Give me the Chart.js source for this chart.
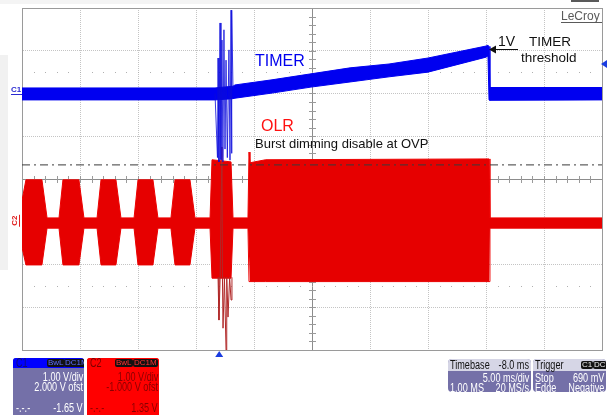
<!DOCTYPE html>
<html>
<head>
<meta charset="utf-8">
<script src="https://cdn.jsdelivr.net/npm/chart.js@4.4.1/dist/chart.umd.min.js"></script>
<style>
body { margin: 0; background: #fff; font-family: "Liberation Sans", Arial, sans-serif; }
#wrap { position: relative; width: 607px; height: 415px; overflow: hidden; background: #fff; }
#scope { position: absolute; left: 0; top: 0; }
.shade { position: absolute; background: #f1f1f1; }
.panel { position: absolute; overflow: hidden; font-size: 12px; line-height: 10px; color: #fff; }
.panel .head { position: absolute; left: 0; right: 0; top: 0; }
.panel span { position: absolute; white-space: nowrap; transform: scaleX(0.76); transform-origin: left center; }
.panel span.r { transform-origin: right center; }
.panel span.tag { background: #111; border-radius: 2px; font-size: 8px; line-height: 8px; padding: 0 1px; top: 1px; transform: none; }
</style>
</head>
<body>
<div id="wrap">
  <div class="shade" style="left:0;top:55px;width:8px;height:215px"></div>
  <div class="shade" style="left:0;top:0;width:420px;height:4px;background:#f4f4f4"></div>
  <canvas id="scope" width="607" height="415"></canvas>

  <div class="panel" style="left:13px;top:358px;width:71px;height:60px;background:#7470a8;border-radius:3px 3px 0 0">
    <div class="head" style="height:10px;background:#0000ff"></div>
    <span style="left:3px;top:0;color:#101070">C1</span>
    <span class="tag" style="left:34px;color:#5a6cff">BwL</span>
    <span class="tag" style="left:51px;color:#5a6cff">DC1M</span>
    <span class="r" style="right:1px;top:14px">1.00 V/div</span>
    <span class="r" style="right:1px;top:24px">2.000 V ofst</span>
    <span style="left:3px;top:45px">-.-.-</span>
    <span class="r" style="right:1px;top:45px">-1.65 V</span>
  </div>
  <div class="panel" style="left:87px;top:358px;width:72px;height:60px;background:#ff0000;border-radius:3px 3px 0 0;color:#8a0000">
    <div class="head" style="height:10px;background:#ff0000"></div>
    <span style="left:3px;top:0;color:#7a0000">C2</span>
    <span class="tag" style="left:28px;color:#ff3030">BwL</span>
    <span class="tag" style="left:46px;color:#ff3030">DC1M</span>
    <span class="r" style="right:1px;top:14px">1.00 V/div</span>
    <span class="r" style="right:1px;top:24px">-1.000 V ofst</span>
    <span style="left:3px;top:45px">-.-.-</span>
    <span class="r" style="right:1px;top:45px">1.35 V</span>
  </div>
  <div class="panel" style="left:448px;top:359px;width:83px;height:33px;background:#7470a8;border-radius:4px">
    <div class="head" style="height:12px;background:#d6d6e6"></div>
    <span style="left:2px;top:1px;color:#111">Timebase</span>
    <span class="r" style="right:2px;top:1px;color:#111">-8.0 ms</span>
    <span class="r" style="right:2px;top:14px">5.00 ms/div</span>
    <span style="left:2px;top:24px">1.00 MS</span>
    <span class="r" style="right:2px;top:24px">20 MS/s</span>
  </div>
  <div class="panel" style="left:533px;top:359px;width:73px;height:33px;background:#7470a8;border-radius:4px">
    <div class="head" style="height:12px;background:#d6d6e6"></div>
    <span style="left:2px;top:1px;color:#111">Trigger</span>
    <span class="tag" style="left:48px;top:2px;color:#eee">C1</span>
    <span class="tag" style="left:60px;top:2px;color:#eee">DC</span>
    <span style="left:2px;top:14px">Stop</span>
    <span class="r" style="right:2px;top:14px">690 mV</span>
    <span style="left:2px;top:24px">Edge</span>
    <span class="r" style="right:2px;top:24px">Negative</span>
  </div>
</div>
<script>
// scope settings
var timeMin = -17, timeMax = 33, msPerDiv = 5;
var c1OffsetDiv = 2, c2OffsetDiv = -1;   // 2.000 V ofst / -1.000 V ofst at 1 V/div
var trigLevelV = 0.69;
var cursorV = 1.33;                       // dash-dot level on C2

// C1 TIMER: envelope of the trace (ms, volts)
var c1Time = [-17, -0.36, 1.19, 1.36, 4.55, 7.91, 11.28, 14.64, 18.0, 23.0, 23.17, 23.26, 23.34, 33];
var c1High = [0.13, 0.13, 0.17, 0.20, 0.32, 0.46, 0.60, 0.69, 0.83, 1.11, 1.13, 1.10, 0.14, 0.14];
var c1Low  = [-0.15, -0.15, -0.12, -0.11, 0.01, 0.15, 0.27, 0.39, 0.50, 0.85, 0.88, -0.15, -0.16, -0.15];
// C1 ringing near the trigger
var c1SpikeTime = [-0.36, -0.15, -0.1, -0.02, 0.07, 0.15, 0.24, 0.32, 0.41, 0.5, 0.59, 0.7, 0.84, 0.93, 1.02, 1.06, 1.10, 1.19];
var c1SpikeV    = [0, -1.5, 0.83, -1.6, 1.65, -1.55, 1.25, -1.6, 1.49, -1.3, 0.78, -1.5, 1.02, -1.56, 1.95, -1.4, 1.95, 0.1];

// C2 OLR: envelope of the burst packets (ms, volts)
var c2Time = [-17, -16.66, -15.28, -14.84, -13.81, -13.47, -12.09, -11.66, -10.53, -10.19, -8.90, -8.47,
              -7.34, -7.0, -5.71, -5.28, -4.16, -3.81, -2.52, -2.09, -0.79, -0.62, 1.02, 1.19,
              2.48, 2.57, 2.65, 4.0, 23.26, 23.34, 33];
var c2High = [0.5, 0.98, 0.98, 0.09, 0.09, 0.98, 0.98, 0.09, 0.09, 0.98, 0.98, 0.09,
              0.09, 0.98, 0.98, 0.09, 0.09, 0.98, 0.98, 0.09, 0.09, 1.45, 1.40, 0.09,
              0.09, 1.63, 1.38, 1.45, 1.47, 0.09, 0.09];
var c2Low  = [-0.6, -1.01, -1.01, -0.15, -0.15, -1.01, -1.01, -0.15, -0.15, -1.01, -1.01, -0.15,
              -0.15, -1.01, -1.01, -0.15, -0.15, -1.01, -1.01, -0.15, -0.15, -1.32, -1.32, -0.15,
              -0.15, -1.40, -1.40, -1.40, -1.40, -0.15, -0.15];
var c2SpikeTime = [-0.1, -0.02, 0.08, 0.24, 0.28, 0.33, 0.45, 0.59, 0.65, 0.76, 0.9, 1.02, 1.1];
var c2SpikeV    = [-1.3, -2.30, -1.3, 1.75, -1.3, -2.49, -1.3, -3.0, -1.3, -2.23, -1.3, -1.83, -1.3];

function pts(t, v, off) {
  return t.map(function (ti, i) { return {x: ti, y: v[i] + off}; });
}

var blue = '#0000f0', red = '#ee0000';

function line(data, color, extra) {
  var d = {data: data, borderColor: color, backgroundColor: color, borderWidth: 1,
           pointRadius: 0, tension: 0, fill: false};
  for (var k in extra) d[k] = extra[k];
  return d;
}

var isCenter = function (c, v) { return c.tick && c.tick.value === v; };

var decor = {
  id: 'decor',
  beforeDatasetsDraw: function (chart) {
    var ctx = chart.ctx, x = chart.scales.x, y = chart.scales.y;
    var cx = Math.round(x.getPixelForValue((timeMin + timeMax) / 2)), cy = Math.round(y.getPixelForValue(0));
    ctx.save();
    ctx.fillStyle = '#9a9a9a';
    for (var d = -4; d <= 4.001; d += 0.2) ctx.fillRect(cx - 3, Math.round(y.getPixelForValue(d)), 7, 1);
    for (var t = timeMin; t <= timeMax; t += msPerDiv / 5) ctx.fillRect(Math.round(x.getPixelForValue(t)), cy - 3, 1, 7);
    ctx.fillStyle = '#b0b0b0';
    [2.5, -2.5].forEach(function (dv) {
      var py = Math.round(y.getPixelForValue(dv));
      for (var t = timeMin + 1; t < timeMax; t += msPerDiv / 5) ctx.fillRect(Math.round(x.getPixelForValue(t)), py, 1, 1);
    });
    ctx.restore();
  },
  afterDraw: function (chart) {
    var ctx = chart.ctx, x = chart.scales.x, y = chart.scales.y, a = chart.chartArea;
    ctx.save();
    ctx.textBaseline = 'alphabetic';
    ctx.font = '16px "Liberation Sans", Arial, sans-serif';
    ctx.fillStyle = '#0000ee'; ctx.fillText('TIMER', 255, 66);
    ctx.fillStyle = '#ff1010'; ctx.fillText('OLR', 261, 131);
    ctx.fillStyle = '#111';
    ctx.font = '13px "Liberation Sans", Arial, sans-serif';
    ctx.fillText('Burst dimming disable at OVP', 255, 148);
    ctx.font = '14px "Liberation Sans", Arial, sans-serif';
    ctx.fillText('1V', 498, 46);
    ctx.font = '13.5px "Liberation Sans", Arial, sans-serif';
    ctx.fillText('TIMER', 529, 46);
    ctx.fillText('threshold', 521, 62);
    // arrow to the 1 V peak
    ctx.fillRect(494, 49, 24, 1);
    ctx.beginPath(); ctx.moveTo(489, 49.5); ctx.lineTo(496, 45.5); ctx.lineTo(496, 53.5); ctx.closePath(); ctx.fill();
    // LeCroy logo
    ctx.fillStyle = '#5a5a5a';
    ctx.font = '12px "Liberation Sans", Arial, sans-serif';
    ctx.fillText('LeCroy', 561, 20);
    ctx.fillRect(561, 22, 41, 1);
    ctx.fillRect(571, 0, 28, 2);
    // channel markers
    var y1 = Math.round(y.getPixelForValue(c1OffsetDiv)) + 0.5;
    ctx.fillStyle = '#2a2ad0'; ctx.strokeStyle = '#2a2ad0'; ctx.lineWidth = 1;
    ctx.font = 'bold 8px "Liberation Sans", Arial, sans-serif';
    ctx.fillText('C1', 11, y1 - 3);
    ctx.beginPath(); ctx.moveTo(11, y1); ctx.lineTo(a.left, y1); ctx.stroke();
    var y2 = y.getPixelForValue(c2OffsetDiv);
    ctx.fillStyle = '#e02020'; ctx.strokeStyle = '#e02020';
    ctx.translate(17, y2 - 1); ctx.rotate(-Math.PI / 2);
    ctx.textAlign = 'center'; ctx.fillText('C2', 0, 0);
    ctx.beginPath(); ctx.moveTo(-6, 2.5); ctx.lineTo(6, 2.5); ctx.stroke();
    ctx.setTransform(1, 0, 0, 1, 0, 0);
    // trigger level and trigger position markers
    ctx.fillStyle = '#1a3ce0';
    var ty = y.getPixelForValue(trigLevelV + c1OffsetDiv);
    ctx.beginPath(); ctx.moveTo(601, ty); ctx.lineTo(607, ty - 4); ctx.lineTo(607, ty + 4); ctx.closePath(); ctx.fill();
    var tx = x.getPixelForValue(0);
    ctx.beginPath(); ctx.moveTo(tx, a.bottom + 1); ctx.lineTo(tx - 4, a.bottom + 7); ctx.lineTo(tx + 4, a.bottom + 7); ctx.closePath(); ctx.fill();
    ctx.restore();
  }
};

new Chart(document.getElementById('scope'), {
  type: 'line',
  data: {
    datasets: [
      line(pts(c1Time, c1High, c1OffsetDiv), blue, {fill: '+1', order: 2}),
      line(pts(c1Time, c1Low, c1OffsetDiv), blue, {order: 2}),
      line(pts(c1SpikeTime, c1SpikeV, c1OffsetDiv), 'rgba(10,10,220,0.8)', {order: 1}),
      line(pts(c2Time, c2High, c2OffsetDiv), red, {fill: '+1', backgroundColor: '#e60000', order: 4}),
      line(pts(c2Time, c2Low, c2OffsetDiv), red, {order: 4}),
      line(pts(c2SpikeTime, c2SpikeV, c2OffsetDiv), '#b02828', {order: 3}),
      line([{x: timeMin, y: cursorV + c2OffsetDiv}, {x: timeMax, y: cursorV + c2OffsetDiv}], '#3a3a3a',
           {borderDash: [8, 4, 2, 4], order: 0})
    ]
  },
  options: {
    responsive: false,
    animation: false,
    events: [],
    layout: {padding: {left: 22, top: 8, right: 5, bottom: 65}},
    plugins: {legend: {display: false}, tooltip: {enabled: false}},
    scales: {
      x: {
        type: 'linear', min: timeMin, max: timeMax,
        ticks: {display: false, stepSize: msPerDiv},
        grid: {drawTicks: false,
               color: function (c) { return isCenter(c, 8) ? '#8c8c8c' : (isCenter(c, timeMin) || isCenter(c, timeMax) ? '#9a9a9a' : '#c4c4c4'); }},
        border: {color: '#9a9a9a',
                 dash: function (c) { return (!c.tick || isCenter(c, 8) || isCenter(c, timeMin) || isCenter(c, timeMax)) ? [] : [1, 1]; }}
      },
      y: {
        type: 'linear', min: -4, max: 4,
        ticks: {display: false, stepSize: 1},
        grid: {drawTicks: false,
               color: function (c) { return isCenter(c, 0) ? '#8c8c8c' : (isCenter(c, 4) || isCenter(c, -4) ? '#9a9a9a' : '#c4c4c4'); }},
        border: {color: '#9a9a9a',
                 dash: function (c) { return (!c.tick || isCenter(c, 0) || isCenter(c, 4) || isCenter(c, -4)) ? [] : [1, 1]; }}
      }
    }
  },
  plugins: [decor]
});
</script>
</body>
</html>
